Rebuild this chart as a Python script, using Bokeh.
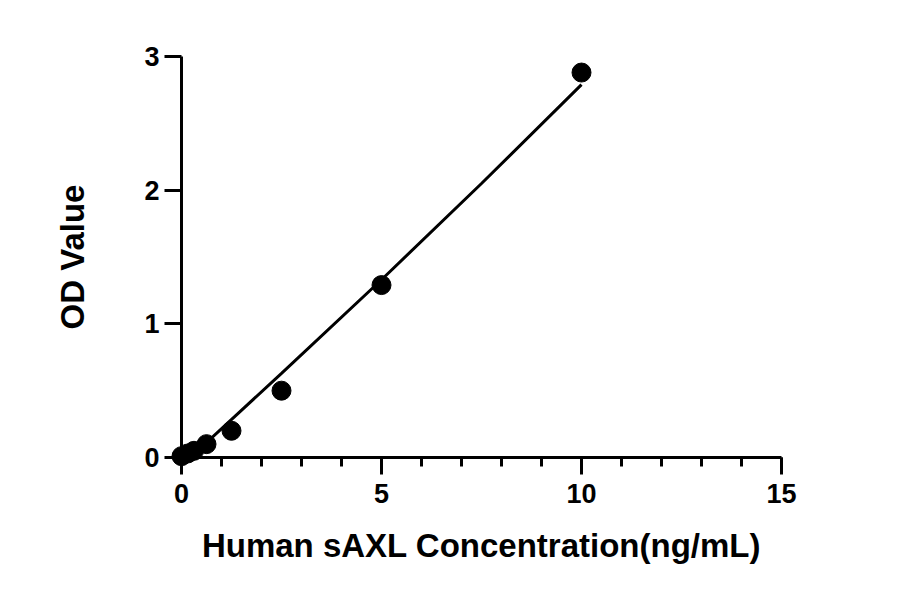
from bokeh.plotting import figure
from bokeh.models import Range1d, SingleIntervalTicker
from bokeh.embed import file_html
from bokeh.resources import INLINE

# Data
conc = [0.0, 0.156, 0.3125, 0.625, 1.25, 2.5, 5.0, 10.0]
od = [0.01, 0.03, 0.05, 0.10, 0.20, 0.50, 1.29, 2.88]
fit_x = [0.22, 2.5, 5.0, 7.5, 10.0]
fit_y = [0.0, 0.63, 1.33, 2.05, 2.79]
x_title = "Human sAXL Concentration(ng/mL)"
y_title = "OD Value"

FONT = "Liberation Sans"

p = figure(width=884, height=578, output_backend="svg", toolbar_location=None,
           x_range=Range1d(0, 15), y_range=Range1d(0, 3),
           min_border_left=181, min_border_right=103, min_border_top=56,
           min_border_bottom=121)
p.outline_line_color = None
p.grid.grid_line_color = None
p.background_fill_color = "white"
p.border_fill_color = "white"

p.line(fit_x, fit_y, line_color="black", line_width=3)
p.scatter(conc, od, size=19, color="black", level="overlay")

xa = p.xaxis[0]
xa.ticker = SingleIntervalTicker(interval=5, num_minor_ticks=5)
ya = p.yaxis[0]
ya.ticker = SingleIntervalTicker(interval=1, num_minor_ticks=0)
xa.axis_label = x_title
ya.axis_label = y_title

for ax in (xa, ya):
    ax.axis_line_width = 3
    ax.axis_line_color = "black"
    ax.major_tick_line_width = 3
    ax.major_tick_line_color = "black"
    ax.major_tick_out = 17
    ax.major_tick_in = 0
    ax.minor_tick_line_width = 3
    ax.minor_tick_line_color = "black"
    ax.minor_tick_out = 9
    ax.minor_tick_in = 0
    ax.major_label_text_font = FONT
    ax.major_label_text_font_style = "bold"
    ax.major_label_text_font_size = "27px"
    ax.major_label_text_color = "black"
    ax.axis_label_text_font = FONT
    ax.axis_label_text_font_style = "bold"
    ax.axis_label_text_font_size = "33px"
    ax.axis_label_text_color = "black"
ya.minor_tick_line_color = None
xa.major_label_standoff = 9
ya.major_label_standoff = 5
xa.axis_label_standoff = 21
ya.axis_label_standoff = 50

open("out.html", "w").write(file_html(p, INLINE))
